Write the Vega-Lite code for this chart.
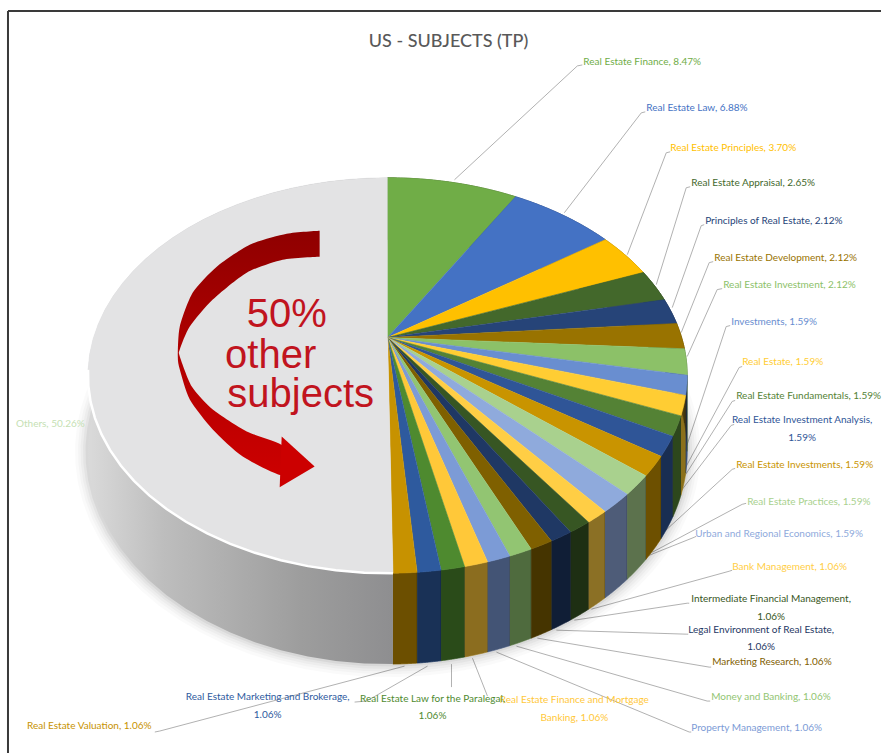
{"$schema":"https://vega.github.io/schema/vega-lite/v6.json","width":882,"height":754,"padding":0,"autosize":{"type":"fit","contains":"padding"},"background":"#FFFFFF","config":{"view":{"stroke":null}},
"datasets":{
"subjects":[
{"subject":"Real Estate Finance","share":8.47},{"subject":"Real Estate Law","share":6.88},{"subject":"Real Estate Principles","share":3.70},{"subject":"Real Estate Appraisal","share":2.65},{"subject":"Principles of Real Estate","share":2.12},{"subject":"Real Estate Development","share":2.12},{"subject":"Real Estate Investment","share":2.12},{"subject":"Investments","share":1.59},{"subject":"Real Estate","share":1.59},{"subject":"Real Estate Fundamentals","share":1.59},{"subject":"Real Estate Investment Analysis","share":1.59},{"subject":"Real Estate Investments","share":1.59},{"subject":"Real Estate Practices","share":1.59},{"subject":"Urban and Regional Economics","share":1.59},{"subject":"Bank Management","share":1.06},{"subject":"Intermediate Financial Management","share":1.06},{"subject":"Legal Environment of Real Estate","share":1.06},{"subject":"Marketing Research","share":1.06},{"subject":"Money and Banking","share":1.06},{"subject":"Property Management","share":1.06},{"subject":"Real Estate Finance and Mortgage Banking","share":1.06},{"subject":"Real Estate Law for the Paralegal","share":1.06},{"subject":"Real Estate Marketing and Brokerage","share":1.06},{"subject":"Real Estate Valuation","share":1.06},{"subject":"Others","share":50.26}],
"leaders":[
{"subject":"Real Estate Finance","seq":0,"x":67,"y":158},{"subject":"Real Estate Finance","seq":1,"x":190,"y":272},{"subject":"Real Estate Finance","seq":2,"x":195,"y":273},
{"subject":"Real Estate Law","seq":0,"x":177,"y":125},{"subject":"Real Estate Law","seq":1,"x":254,"y":225},{"subject":"Real Estate Law","seq":2,"x":258,"y":226},
{"subject":"Real Estate Principles","seq":0,"x":240,"y":83},{"subject":"Real Estate Principles","seq":1,"x":279,"y":185},{"subject":"Real Estate Principles","seq":2,"x":283,"y":186},
{"subject":"Real Estate Appraisal","seq":0,"x":269,"y":53},{"subject":"Real Estate Appraisal","seq":1,"x":299,"y":150},{"subject":"Real Estate Appraisal","seq":2,"x":303,"y":151},
{"subject":"Principles of Real Estate","seq":0,"x":285,"y":30},{"subject":"Principles of Real Estate","seq":1,"x":314,"y":112},{"subject":"Principles of Real Estate","seq":2,"x":317,"y":113},
{"subject":"Real Estate Development","seq":0,"x":294,"y":5},{"subject":"Real Estate Development","seq":1,"x":322,"y":75},{"subject":"Real Estate Development","seq":2,"x":326,"y":76},
{"subject":"Real Estate Investment","seq":0,"x":300,"y":-19},{"subject":"Real Estate Investment","seq":1,"x":330,"y":48},{"subject":"Real Estate Investment","seq":2,"x":335,"y":49},
{"subject":"Investments","seq":0,"x":295,"y":-122},{"subject":"Investments","seq":1,"x":339,"y":11},{"subject":"Investments","seq":2,"x":343,"y":12},
{"subject":"Real Estate","seq":0,"x":292,"y":-142},{"subject":"Real Estate","seq":1,"x":352,"y":-30},{"subject":"Real Estate","seq":2,"x":355,"y":-29},
{"subject":"Real Estate Fundamentals","seq":0,"x":289,"y":-152},{"subject":"Real Estate Fundamentals","seq":1,"x":345,"y":-64},{"subject":"Real Estate Fundamentals","seq":2,"x":348,"y":-63},
{"subject":"Real Estate Investment Analysis","seq":0,"x":282,"y":-169},{"subject":"Real Estate Investment Analysis","seq":1,"x":344,"y":-88},{"subject":"Real Estate Investment Analysis","seq":2,"x":347,"y":-87},
{"subject":"Real Estate Investments","seq":0,"x":272,"y":-199},{"subject":"Real Estate Investments","seq":1,"x":345,"y":-132},{"subject":"Real Estate Investments","seq":2,"x":348,"y":-131},
{"subject":"Real Estate Practices","seq":0,"x":265,"y":-215},{"subject":"Real Estate Practices","seq":1,"x":355,"y":-167},{"subject":"Real Estate Practices","seq":2,"x":359,"y":-166},
{"subject":"Urban and Regional Economics","seq":0,"x":257,"y":-220},{"subject":"Urban and Regional Economics","seq":1,"x":307,"y":-200},{"subject":"Urban and Regional Economics","seq":2,"x":309,"y":-199},
{"subject":"Bank Management","seq":0,"x":204,"y":-272},{"subject":"Bank Management","seq":1,"x":342,"y":-234},{"subject":"Bank Management","seq":2,"x":345,"y":-233},
{"subject":"Intermediate Financial Management","seq":0,"x":187,"y":-283},{"subject":"Intermediate Financial Management","seq":1,"x":300,"y":-266},{"subject":"Intermediate Financial Management","seq":2,"x":302,"y":-266},
{"subject":"Legal Environment of Real Estate","seq":0,"x":169,"y":-293},{"subject":"Legal Environment of Real Estate","seq":1,"x":299,"y":-297},{"subject":"Legal Environment of Real Estate","seq":2,"x":301,"y":-297},
{"subject":"Marketing Research","seq":0,"x":150,"y":-301},{"subject":"Marketing Research","seq":1,"x":322,"y":-330},{"subject":"Marketing Research","seq":2,"x":324,"y":-330},
{"subject":"Money and Banking","seq":0,"x":129,"y":-309},{"subject":"Money and Banking","seq":1,"x":320,"y":-364},{"subject":"Money and Banking","seq":2,"x":323,"y":-364},
{"subject":"Property Management","seq":0,"x":109,"y":-315},{"subject":"Property Management","seq":1,"x":302,"y":-395},{"subject":"Property Management","seq":2,"x":304,"y":-395},
{"subject":"Real Estate Finance and Mortgage Banking","seq":0,"x":85,"y":-321},{"subject":"Real Estate Finance and Mortgage Banking","seq":1,"x":100,"y":-359},
{"subject":"Real Estate Law for the Paralegal","seq":0,"x":64,"y":-327},{"subject":"Real Estate Law for the Paralegal","seq":1,"x":64,"y":-350},
{"subject":"Real Estate Marketing and Brokerage","seq":0,"x":40,"y":-329},{"subject":"Real Estate Marketing and Brokerage","seq":1,"x":-21,"y":-364},{"subject":"Real Estate Marketing and Brokerage","seq":2,"x":-33,"y":-365},
{"subject":"Real Estate Valuation","seq":0,"x":17,"y":-329},{"subject":"Real Estate Valuation","seq":1,"x":-228,"y":-394},{"subject":"Real Estate Valuation","seq":2,"x":-233,"y":-395}],
"labels":[
{"subject":"Real Estate Finance","text":"Real Estate Finance, 8.47%","x":196,"y":276,"anchor":"left"},
{"subject":"Real Estate Law","text":"Real Estate Law, 6.88%","x":259,"y":230,"anchor":"left"},
{"subject":"Real Estate Principles","text":"Real Estate Principles, 3.70%","x":283,"y":190,"anchor":"left"},
{"subject":"Real Estate Appraisal","text":"Real Estate Appraisal, 2.65%","x":304,"y":155,"anchor":"left"},
{"subject":"Principles of Real Estate","text":"Principles of Real Estate, 2.12%","x":318,"y":117,"anchor":"left"},
{"subject":"Real Estate Development","text":"Real Estate Development, 2.12%","x":327,"y":80,"anchor":"left"},
{"subject":"Real Estate Investment","text":"Real Estate Investment, 2.12%","x":336,"y":53,"anchor":"left"},
{"subject":"Investments","text":"Investments, 1.59%","x":344,"y":16,"anchor":"left"},
{"subject":"Real Estate","text":"Real Estate, 1.59%","x":355,"y":-24,"anchor":"left"},
{"subject":"Real Estate Fundamentals","text":"Real Estate Fundamentals, 1.59%","x":349,"y":-59,"anchor":"left"},
{"subject":"Real Estate Investment Analysis","text":"Real Estate Investment Analysis,","x":415,"y":-83,"anchor":"center"},
{"subject":"Real Estate Investment Analysis","text":"1.59%","x":415,"y":-101,"anchor":"center"},
{"subject":"Real Estate Investments","text":"Real Estate Investments, 1.59%","x":349,"y":-128,"anchor":"left"},
{"subject":"Real Estate Practices","text":"Real Estate Practices, 1.59%","x":360,"y":-165,"anchor":"left"},
{"subject":"Urban and Regional Economics","text":"Urban and Regional Economics, 1.59%","x":308,"y":-197,"anchor":"left"},
{"subject":"Bank Management","text":"Bank Management, 1.06%","x":345,"y":-230,"anchor":"left"},
{"subject":"Intermediate Financial Management","text":"Intermediate Financial Management,","x":384,"y":-262,"anchor":"center"},
{"subject":"Intermediate Financial Management","text":"1.06%","x":384,"y":-280,"anchor":"center"},
{"subject":"Legal Environment of Real Estate","text":"Legal Environment of Real Estate,","x":374,"y":-293,"anchor":"center"},
{"subject":"Legal Environment of Real Estate","text":"1.06%","x":374,"y":-310,"anchor":"center"},
{"subject":"Marketing Research","text":"Marketing Research, 1.06%","x":325,"y":-325,"anchor":"left"},
{"subject":"Money and Banking","text":"Money and Banking, 1.06%","x":324,"y":-360,"anchor":"left"},
{"subject":"Property Management","text":"Property Management, 1.06%","x":304,"y":-391,"anchor":"left"},
{"subject":"Real Estate Finance and Mortgage Banking","text":"Real Estate Finance and Mortgage","x":187,"y":-363,"anchor":"center"},
{"subject":"Real Estate Finance and Mortgage Banking","text":"Banking, 1.06%","x":187,"y":-381,"anchor":"center"},
{"subject":"Real Estate Law for the Paralegal","text":"Real Estate Law for the Paralegal,","x":45,"y":-362,"anchor":"center"},
{"subject":"Real Estate Law for the Paralegal","text":"1.06%","x":45,"y":-379,"anchor":"center"},
{"subject":"Real Estate Marketing and Brokerage","text":"Real Estate Marketing and Brokerage,","x":-120,"y":-360,"anchor":"center"},
{"subject":"Real Estate Marketing and Brokerage","text":"1.06%","x":-120,"y":-378,"anchor":"center"},
{"subject":"Real Estate Valuation","text":"Real Estate Valuation, 1.06%","x":-361,"y":-389,"anchor":"left"},
{"subject":"Others","text":"Others, 50.26%","x":-372,"y":-87,"anchor":"other"}],
"arrowBody":[
{"n":0,"x":-68,"y":107},{"n":1,"x":-101,"y":104},{"n":2,"x":-138,"y":93},{"n":3,"x":-171,"y":71},{"n":4,"x":-195,"y":45},{"n":5,"x":-208,"y":11},{"n":6,"x":-210,"y":-19},{"n":7,"x":-208,"y":-32},{"n":8,"x":-198,"y":-62},{"n":9,"x":-175,"y":-92},{"n":10,"x":-145,"y":-119},{"n":11,"x":-104,"y":-138},{"n":12,"x":-104,"y":-109},{"n":13,"x":-141,"y":-94},{"n":14,"x":-175,"y":-72},{"n":15,"x":-196,"y":-49},{"n":16,"x":-208,"y":-19},{"n":17,"x":-208,"y":-12},{"n":18,"x":-198,"y":11},{"n":19,"x":-175,"y":38},{"n":20,"x":-141,"y":65},{"n":21,"x":-105,"y":78},{"n":22,"x":-68,"y":81}],
"arrowHead":[{"n":0,"x":-106,"y":-99},{"n":1,"x":-73,"y":-129},{"n":2,"x":-108,"y":-150}],
"frame":[{"x":-380,"y":327,"x2":494,"y2":327},{"x":-380,"y":327,"x2":-380,"y2":-416}],
"callout":[{"text":"50%","x":-101,"y":11},{"text":"other","x":-117,"y":-30},{"text":"subjects","x":-87,"y":-70}],
"heading":[{"text":"US - SUBJECTS (TP)","x":61,"y":296}]
},
"layer":[
{"data":{"name":"frame"},"mark":{"type":"rule","color":"#3A3A3A","strokeWidth":2},
 "encoding":{"x":{"field":"x","type":"quantitative","axis":null,"scale":{"domain":[-388,494],"nice":false,"zero":false}},"y":{"field":"y","type":"quantitative","axis":null,"scale":{"domain":[-416,338],"nice":false,"zero":false}},"x2":{"field":"x2"},"y2":{"field":"y2"}}},
{"data":{"name":"leaders"},"mark":{"type":"line","stroke":"#A8A8A8","strokeWidth":0.9},
 "encoding":{"x":{"field":"x","type":"quantitative"},"y":{"field":"y","type":"quantitative"},"detail":{"field":"subject"},"order":{"field":"seq","type":"quantitative"}}},
{"data":{"name":"subjects"},
 "transform":[
  {"joinaggregate":[{"op":"sum","field":"share","as":"total"}]},
  {"window":[{"op":"sum","field":"share","as":"cum"}]},
  {"calculate":"[0,1,2,3,4,5,6,7,8,9,10,11,12,13,14,15,16,17,18,19,20,21,22,23,24,25,26,27,28,29,30,31,32,33,34,35,36,37,38,39,40,41,42,43,44,45,46,47,48,49,50,51,52,53,54,55,56,57,58,59,60,61,62,63,64,65,66,67,68,69,70,71,72,73,74,75,76,77,78,79,80,81]","as":"i"},
  {"flatten":["i"]},
  {"calculate":"2*PI*((datum.cum-datum.share)+datum.share*(datum.i>40?81-datum.i:datum.i)/40)/datum.total","as":"theta"},
  {"calculate":"1+0.192*cos(datum.theta)","as":"w"},
  {"calculate":"294.4*sin(datum.theta)/datum.w","as":"px"},
  {"calculate":"(190.7*cos(datum.theta)-(datum.i>40?73.5:0))/datum.w","as":"py"}
 ],
 "encoding":{"x":{"field":"px","type":"quantitative"},"y":{"field":"py","type":"quantitative"}},
 "layer":[
  {"transform":[{"filter":"datum.i>40"}],"mark":{"type":"line","stroke":"#000000","strokeWidth":26,"opacity":0.018},"encoding":{"order":{"field":"theta","type":"quantitative"}}},
  {"transform":[{"filter":"datum.i>40"}],"mark":{"type":"line","stroke":"#000000","strokeWidth":20,"opacity":0.022},"encoding":{"order":{"field":"theta","type":"quantitative"}}},
  {"transform":[{"filter":"datum.i>40"}],"mark":{"type":"line","stroke":"#000000","strokeWidth":15,"opacity":0.028},"encoding":{"order":{"field":"theta","type":"quantitative"}}},
  {"transform":[{"filter":"datum.i>40"}],"mark":{"type":"line","stroke":"#000000","strokeWidth":10,"opacity":0.035},"encoding":{"order":{"field":"theta","type":"quantitative"}}},
  {"transform":[{"filter":"datum.i>40"}],"mark":{"type":"line","stroke":"#000000","strokeWidth":5,"opacity":0.05},"encoding":{"order":{"field":"theta","type":"quantitative"}}},
  {"transform":[{"filter":"datum.subject!=='Others'"}],"mark":{"type":"line","strokeWidth":0.6},
   "encoding":{"order":{"field":"i","type":"quantitative"},
    "fill":{"field":"subject","type":"nominal","legend":null,"sort":null,"scale":{"domain":["Real Estate Finance","Real Estate Law","Real Estate Principles","Real Estate Appraisal","Principles of Real Estate","Real Estate Development","Real Estate Investment","Investments","Real Estate","Real Estate Fundamentals","Real Estate Investment Analysis","Real Estate Investments","Real Estate Practices","Urban and Regional Economics","Bank Management","Intermediate Financial Management","Legal Environment of Real Estate","Marketing Research","Money and Banking","Property Management","Real Estate Finance and Mortgage Banking","Real Estate Law for the Paralegal","Real Estate Marketing and Brokerage","Real Estate Valuation","Others"],"range":["#70AD47","#4472C4","#FFC000","#43682B","#264478","#997300","#8CC168","#698ED0","#FFCD33","#548235","#2F5597","#C99400","#A9D18E","#8FAADC","#FFCE45","#375623","#1F3864","#7F6000","#92C572","#7C9BD6","#FFC839","#4E8A2F","#2E5A9E","#C79200","#E3E3E4"]}},
    "stroke":{"field":"subject","type":"nominal","legend":null,"sort":null,"scale":{"domain":["Real Estate Finance","Real Estate Law","Real Estate Principles","Real Estate Appraisal","Principles of Real Estate","Real Estate Development","Real Estate Investment","Investments","Real Estate","Real Estate Fundamentals","Real Estate Investment Analysis","Real Estate Investments","Real Estate Practices","Urban and Regional Economics","Bank Management","Intermediate Financial Management","Legal Environment of Real Estate","Marketing Research","Money and Banking","Property Management","Real Estate Finance and Mortgage Banking","Real Estate Law for the Paralegal","Real Estate Marketing and Brokerage","Real Estate Valuation","Others"],"range":["#70AD47","#4472C4","#FFC000","#43682B","#264478","#997300","#8CC168","#698ED0","#FFCD33","#548235","#2F5597","#C99400","#A9D18E","#8FAADC","#FFCE45","#375623","#1F3864","#7F6000","#92C572","#7C9BD6","#FFC839","#4E8A2F","#2E5A9E","#C79200","#E3E3E4"]}}}},
  {"transform":[{"filter":"datum.subject!=='Others'"}],"mark":{"type":"line","fill":"#000000","stroke":"#000000","strokeWidth":0.6,"opacity":0.45},
   "encoding":{"order":{"field":"i","type":"quantitative"},"detail":{"field":"subject"}}},
  {"transform":[{"filter":"datum.subject==='Others'"}],
   "mark":{"type":"line","strokeWidth":0,"fill":{"gradient":"linear","x1":0,"y1":0,"x2":1,"y2":0,"stops":[{"offset":0,"color":"#DADADA"},{"offset":0.25,"color":"#BDBDBD"},{"offset":0.7,"color":"#9D9D9D"},{"offset":1,"color":"#8E8E90"}]}},
   "encoding":{"order":{"field":"i","type":"quantitative"}}}
 ]},
{"data":{"name":"subjects"},
 "transform":[
  {"joinaggregate":[{"op":"sum","field":"share","as":"total"}]},
  {"window":[{"op":"sum","field":"share","as":"cum"}]},
  {"calculate":"[-1,0,1,2,3,4,5,6,7,8,9,10,11,12,13,14,15,16,17,18,19,20,21,22,23,24,25,26,27,28,29,30,31,32,33,34,35,36,37,38,39,40]","as":"i"},
  {"flatten":["i"]},
  {"calculate":"2*PI*((datum.cum-datum.share)+datum.share*max(datum.i,0)/40)/datum.total","as":"theta"},
  {"calculate":"datum.i<0?0:1","as":"r"},
  {"calculate":"294.4*datum.r*sin(datum.theta)/(1+0.192*datum.r*cos(datum.theta))","as":"px"},
  {"calculate":"190.7*datum.r*cos(datum.theta)/(1+0.192*datum.r*cos(datum.theta))","as":"py"}
 ],
 "encoding":{"x":{"field":"px","type":"quantitative"},"y":{"field":"py","type":"quantitative"}},
 "layer":[
  {"mark":{"type":"line","strokeWidth":0.6},
   "encoding":{"order":{"field":"i","type":"quantitative"},"fill":{"field":"subject","type":"nominal","legend":null},"stroke":{"field":"subject","type":"nominal","legend":null}}},
  {"transform":[{"filter":"datum.subject==='Others' && datum.i>=0 && datum.i<=18"}],"mark":{"type":"line","stroke":"#FFFFFF","strokeWidth":2.5},
   "encoding":{"order":{"field":"i","type":"quantitative"}}}
 ]},
{"data":{"name":"arrowBody"},"mark":{"type":"line","interpolate":"cardinal","tension":0.3,"strokeWidth":0,"fill":{"gradient":"linear","x1":0,"y1":0,"x2":0,"y2":1,"stops":[{"offset":0,"color":"#8F0000"},{"offset":0.5,"color":"#B00000"},{"offset":1,"color":"#CC0000"}]}},
 "encoding":{"x":{"field":"x","type":"quantitative"},"y":{"field":"y","type":"quantitative"},"order":{"field":"n","type":"quantitative"}}},
{"data":{"name":"arrowHead"},"mark":{"type":"line","strokeWidth":0,"fill":"#CC0000"},
 "encoding":{"x":{"field":"x","type":"quantitative"},"y":{"field":"y","type":"quantitative"},"order":{"field":"n","type":"quantitative"}}},
{"data":{"name":"callout"},"mark":{"type":"text","font":"Liberation Sans","fontSize":40,"align":"center","baseline":"alphabetic","color":"#C1141E"},
 "encoding":{"x":{"field":"x","type":"quantitative"},"y":{"field":"y","type":"quantitative"},"text":{"field":"text"}}},
{"data":{"name":"heading"},"mark":{"type":"text","font":"Lato","fontSize":18,"align":"center","baseline":"middle","color":"#595959","fontWeight":500},
 "encoding":{"x":{"field":"x","type":"quantitative"},"y":{"field":"y","type":"quantitative"},"text":{"field":"text"}}},
{"data":{"name":"labels"},"transform":[{"filter":"datum.anchor==='left'"}],"mark":{"type":"text","font":"Lato","fontSize":10,"align":"left","baseline":"middle"},
 "encoding":{"x":{"field":"x","type":"quantitative"},"y":{"field":"y","type":"quantitative"},"text":{"field":"text"},"fill":{"field":"subject","type":"nominal","legend":null}}},
{"data":{"name":"labels"},"transform":[{"filter":"datum.anchor==='center'"}],"mark":{"type":"text","font":"Lato","fontSize":10,"align":"center","baseline":"middle"},
 "encoding":{"x":{"field":"x","type":"quantitative"},"y":{"field":"y","type":"quantitative"},"text":{"field":"text"},"fill":{"field":"subject","type":"nominal","legend":null}}},
{"data":{"name":"labels"},"transform":[{"filter":"datum.anchor==='other'"}],"mark":{"type":"text","font":"Lato","fontSize":10,"align":"left","baseline":"middle","fill":"#C5DFB4"},
 "encoding":{"x":{"field":"x","type":"quantitative"},"y":{"field":"y","type":"quantitative"},"text":{"field":"text"}}}
]}
